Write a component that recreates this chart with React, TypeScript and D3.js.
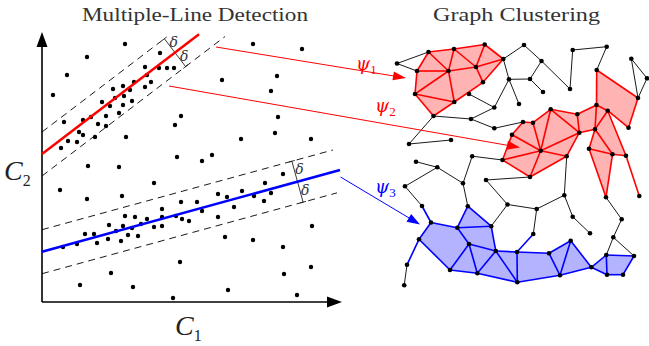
import React from 'react';
import * as d3 from 'd3';

// scatter points (C1, C2)
const points: [number, number][] = [
  [83, 258], [45, 245], [25, 227], [11, 207], [118, 249], [103, 235], [117, 234], [125, 234], [132, 234],
  [105, 227], [92, 220], [103, 215], [109, 220], [71, 213], [81, 216], [88, 212], [73, 204], [82, 206],
  [60, 200], [68, 196], [81, 197], [90, 201], [77, 189], [49, 185], [64, 186], [41, 182], [56, 178],
  [64, 176], [22, 180], [37, 170], [41, 167], [53, 165], [26, 161], [35, 160], [19, 154], [84, 165],
  [139, 186], [133, 177], [135, 145], [160, 141], [170, 147], [46, 136], [77, 135], [211, 258], [260, 253],
  [180, 222], [235, 226], [229, 211], [236, 185], [233, 169], [199, 163], [269, 163], [18, 112], [45, 103],
  [80, 106], [112, 119], [139, 100], [155, 100], [160, 91], [176, 108], [176, 85], [120, 93], [134, 86],
  [140, 83], [147, 81], [105, 83], [120, 85], [93, 85], [83, 86], [67, 77], [81, 76], [90, 74], [99, 78],
  [112, 75], [120, 76], [74, 71], [86, 67], [96, 66], [43, 68], [52, 68], [66, 63], [79, 61], [55, 59],
  [35, 58], [21, 55], [138, 40], [69, 29], [38, 17], [91, 15], [131, 4], [241, 128], [223, 119], [229, 109],
  [222, 101], [212, 106], [200, 111], [185, 105], [192, 95], [270, 76], [183, 65], [211, 62], [241, 55],
  [269, 35], [242, 28], [186, 12], [255, 7],
];

// detected lines: intercept, slope, extent
const redFit = { b: 148, m: 0.762, x0: 0, x1: 157 };
const blueFit = { b: 50.3, m: 0.274, x0: 0, x1: 298 };
const delta = 22;
const redBand = [0, 121, 183]; // fit end, upper end, lower end
const blueBand = [298, 291, 295];
const redBracketAt = 133;
const blueBracketAt = 255.5;

// graph nodes
const nodes: [string, number, number][] = [
  ['A', 38.5, 22], ['B', 64, 19], ['C', 94.7, 14.5], ['D', 113.3, 29], ['E', 27, 41], ['F', 58.5, 41],
  ['G', 86, 37], ['H', 93, 52.3], ['I', 25, 64], ['J', 64.3, 72], ['K', 43.5, 86],
  ['M', 7, 33.5], ['L', 79, 64], ['N', 104.3, 77.5], ['O', 81, 89], ['P', 119, 49.3], ['Q', 129, 74],
  ['S1', 134, 15], ['S2', 151.5, 31], ['S3', 140, 49], ['S4', 153, 62], ['S5', 180, 59], ['S6', 182.7, 20],
  ['S7', 216.7, 16.7], ['S8', 241.3, 28.7], ['S9', 257, 48.3], ['T1', 104.3, 98.3], ['T2', 19, 114], ['T3', 61, 110],
  ['R1', 133, 92], ['R2', 143, 92.7], ['R3', 160.7, 79.3], ['R4', 187.3, 84.3], ['R5', 206.5, 75], ['R6', 206.7, 40],
  ['R7', 248, 68], ['R8', 238.5, 97.7], ['R9', 217.7, 80.7], ['R10', 205, 99.3], ['R11', 189.3, 102.7],
  ['R12', 122, 104.7], ['R13', 150.7, 120.7], ['R14', 176.7, 126.2], ['R15', 112.5, 130], ['R16', 140, 147],
  ['R17', 199, 118.7], ['R18', 222.5, 124.3], ['R19', 236, 125.7], ['R20', 216, 167.3], ['R21', 249.3, 166],
  ['U1', 26, 131.7], ['U2', 47.3, 137.3], ['U3', 15, 156.3], ['U4', 73, 153.3], ['U5', 82.2, 126.2], ['U6', 96, 150],
  ['U7', 117.5, 174.5], ['U8', 146.7, 179], ['U9', 174.3, 165.2], ['U10', 182.7, 186.7], ['U11', 200, 203.3],
  ['U12', 231.7, 189.3], ['U13', 223.3, 207.3], ['U14', 32, 176], ['V', 143.3, 204], ['W1', 17, 234.8], ['W2', 14.2, 255.3],
  ['U15', 77.8, 176.2], ['B1', 41, 192.5], ['B2', 29, 209.3], ['B3', 67.3, 197.7], ['B4', 101.2, 196.2], ['B5', 79, 214],
  ['B6', 105.8, 221], ['B7', 127, 222], ['B8', 60, 240], ['B9', 87.3, 243.2], ['B10', 127.3, 252.2], ['B11', 159, 223.3],
  ['B12', 180.7, 210.7], ['B13', 170, 245.3], ['B14', 201.3, 237.3], ['B15', 216.3, 225], ['B16', 217, 244.7],
  ['B17', 233, 244.7], ['B18', 244, 226],
];

const blackEdges = (
  'M-A M-E L-N N-O O-K N-P D-P P-Q P-S3 D-S1 S1-S2 S2-S3 S3-S4 S2-S5 S5-S6 S6-S7 S7-R6 S8-S9 S8-R7 S9-R7 ' +
  'O-T1 T1-R1 K-T2 T2-T3 U1-U2 U2-U3 U2-U4 U4-U5 U5-R15 U4-U15 U3-U14 U6-R16 U6-U7 U7-B4 U7-U8 U8-V U8-U9 ' +
  'U9-R14 U9-U10 U10-U11 R20-U12 U12-U13 U13-B15 U13-B18 W1-W2'
).split(' ');

const redEdges = (
  'A-B B-C C-D A-E A-F B-F B-G C-G D-G E-F F-G G-H D-H E-I F-I F-J I-J I-K J-K H-J ' +
  'R1-R2 R1-R12 R2-R3 R2-R13 R3-R4 R3-R13 R3-R11 R4-R5 R4-R11 R5-R6 R5-R10 R10-R11 R11-R13 R11-R14 R13-R14 ' +
  'R12-R13 R12-R15 R13-R15 R13-R16 R15-R16 R14-R16 R6-R7 R7-R8 R8-R9 R5-R9 R9-R10 R9-R19 R10-R18 R10-R17 ' +
  'R17-R18 R17-R20 R18-R20 R18-R19 R19-R21'
).split(' ');

const blueEdges = (
  'U14-B1 B1-B2 B1-B3 B3-U15 U15-B4 B3-B4 B3-B5 B2-B8 B5-B8 B5-B9 B8-B9 B5-B6 B4-B6 B6-B9 B6-B10 B9-B10 ' +
  'B6-B7 B7-B10 B7-V B7-B11 B10-B13 B11-B12 B11-B13 B12-B13 B12-B14 B13-B14 B14-B15 B14-B16 B15-B16 ' +
  'B15-B18 B16-B17 B17-B18 B2-W1'
).split(' ');

const redFaces = [
  'A B F', 'A E F', 'B G F', 'B C G', 'C D G', 'G D H', 'E F I', 'F I J', 'F G H J', 'I J K',
  'R12 R1 R2 R13', 'R2 R3 R13', 'R3 R11 R13', 'R3 R4 R11', 'R4 R5 R10 R11', 'R11 R13 R14', 'R12 R13 R15',
  'R15 R13 R16', 'R13 R14 R16', 'R5 R6 R7 R8 R9', 'R5 R9 R10', 'R9 R19 R18 R10', 'R10 R17 R18', 'R17 R18 R20',
].map((f) => f.split(' '));

const blueFaces = [
  'B1 B3 B5 B8 B2', 'B3 U15 B4', 'B3 B4 B6 B5', 'B5 B6 B9', 'B5 B9 B8', 'B6 B9 B10', 'B6 B7 B10',
  'B7 B11 B13 B10', 'B11 B12 B13', 'B12 B14 B13', 'B14 B15 B16', 'B15 B18 B17 B16',
].map((f) => f.split(' '));

// mapping arrows (from, to) in page units
const mapArrows = [
  { from: [216, 47], to: [406, 78], color: '#ff0000', label: '1', at: [356, 70] },
  { from: [169, 86], to: [520, 147.5], color: '#ff0000', label: '2', at: [375, 112] },
  { from: [340.5, 177], to: [420, 224.5], color: '#0000ff', label: '3', at: [375, 193] },
];

const W = 649;
const H = 346;
const serif = 'Liberation Serif, Times New Roman, serif';
const greek = 'DejaVu Serif, serif';

function arrowHead(from: number[], to: number[], len: number, half: number) {
  const dx = to[0] - from[0];
  const dy = to[1] - from[1];
  const d = Math.hypot(dx, dy);
  const ux = dx / d;
  const uy = dy / d;
  const bx = to[0] - ux * len;
  const by = to[1] - uy * len;
  return `${to[0]},${to[1]} ${bx - uy * half},${by + ux * half} ${bx + uy * half},${by - ux * half}`;
}

export default function App() {
  const x = d3.scaleLinear().domain([0, 300]).range([42, 342]);
  const y = d3.scaleLinear().domain([0, 270]).range([302, 32]);
  const gx = d3.scaleLinear().domain([0, 260]).range([390, 650]);
  const gy = d3.scaleLinear().domain([0, 270]).range([30, 300]);

  const pos = new Map(nodes.map(([id, a, b]) => [id, [gx(a), gy(b)]]));
  const line = d3.line();

  const fitLine = (b: number, m: number, x0: number, x1: number) =>
    line([[x(x0), y(b + m * x0)], [x(x1), y(b + m * x1)]]) as string;

  const bands = [
    { fit: redFit, ends: redBand, color: '#ff0000', at: redBracketAt },
    { fit: blueFit, ends: blueBand, color: '#0000ff', at: blueBracketAt },
  ];

  const edgePath = (e: string) => {
    const [a, b] = e.split('-');
    return line([pos.get(a)!, pos.get(b)!] as [number, number][]) as string;
  };
  const facePath = (f: string[]) => line(f.map((id) => pos.get(id)!) as [number, number][]) + 'Z';

  const yTop = y.range()[1];
  const xRight = x.range()[1];

  return (
    <svg width={W} height={H} style={{ position: 'absolute', left: 0, top: 0, background: '#fff' }}>
      <text x={195} y={21} textAnchor="middle" fontFamily={serif} fontSize={19} fill="#333"
        textLength={226} lengthAdjust="spacingAndGlyphs">Multiple-Line Detection</text>
      <text x={516.5} y={21} textAnchor="middle" fontFamily={serif} fontSize={19} fill="#333"
        textLength={167} lengthAdjust="spacingAndGlyphs">Graph Clustering</text>

      {/* axes */}
      <line x1={x(0)} y1={y(0)} x2={x(0)} y2={yTop + 10} stroke="#000" strokeWidth={1.6} />
      <line x1={x(0)} y1={y(0)} x2={xRight - 10} y2={y(0)} stroke="#000" strokeWidth={1.6} />
      <polygon points={arrowHead([x(0), y(0)], [x(0), yTop], 15, 5.5)} fill="#000" />
      <polygon points={arrowHead([x(0), y(0)], [xRight, y(0)], 15, 5.5)} fill="#000" />
      <text x={4} y={180} fontFamily={serif} fontStyle="italic" fontSize={28} fill="#222">
        C<tspan fontStyle="normal" fontSize={16} dy={6}>2</tspan>
      </text>
      <text x={175} y={335} fontFamily={serif} fontStyle="italic" fontSize={28} fill="#222">
        C<tspan fontStyle="normal" fontSize={16} dy={6}>1</tspan>
      </text>

      {/* bands */}
      {bands.map(({ fit, ends, at }, i) => {
        const { b, m } = fit;
        const norm = Math.sqrt(1 + m * m);
        const dp = delta / norm;
        const px = x(at);
        const py = y(b + m * at);
        const nx = m / norm;
        const ny = 1 / norm;
        const tx = 1 / norm;
        const ty = -m / norm;
        const up = [px - nx * dp, py - ny * dp];
        const lo = [px + nx * dp, py + ny * dp];
        return (
          <g key={i}>
            <path d={fitLine(b + delta, m, 0, ends[1])} stroke="#000" strokeWidth={0.9} strokeDasharray="7,5" fill="none" />
            <path d={fitLine(b - delta, m, 0, ends[2])} stroke="#000" strokeWidth={0.9} strokeDasharray="7,5" fill="none" />
            <line x1={up[0]} y1={up[1]} x2={lo[0]} y2={lo[1]} stroke="#222" strokeWidth={0.9} />
            <line x1={up[0] - tx * 3} y1={up[1] - ty * 3} x2={up[0] + tx * 3} y2={up[1] + ty * 3} stroke="#222" strokeWidth={0.9} />
            <line x1={lo[0] - tx * 3} y1={lo[1] - ty * 3} x2={lo[0] + tx * 3} y2={lo[1] + ty * 3} stroke="#222" strokeWidth={0.9} />
            {[up, lo].map((e, k) => (
              <text key={k} x={(e[0] + px) / 2 + tx * 5} y={(e[1] + py) / 2 + ty * 5 + 4}
                textAnchor="middle" fontFamily={greek} fontStyle="italic" fontSize={14} fill="#333">δ</text>
            ))}
          </g>
        );
      })}

      {points.map(([a, b], i) => (
        <circle key={i} cx={x(a)} cy={y(b)} r={2.2} fill="#000" />
      ))}

      <path d={fitLine(redFit.b, redFit.m, redFit.x0, redFit.x1)} stroke="#ff0000" strokeWidth={2.5} />
      <path d={fitLine(blueFit.b, blueFit.m, blueFit.x0, blueFit.x1)} stroke="#0000ff" strokeWidth={2.5} />

      {/* graph */}
      {redFaces.map((f, i) => <path key={'rf' + i} d={facePath(f)} fill="#ffb3b3" />)}
      {blueFaces.map((f, i) => <path key={'bf' + i} d={facePath(f)} fill="#b3b3ff" />)}
      {blackEdges.map((e) => <path key={e} d={edgePath(e)} stroke="#000" strokeWidth={0.9} />)}
      {redEdges.map((e) => <path key={e} d={edgePath(e)} stroke="#ff0000" strokeWidth={1.6} />)}
      {blueEdges.map((e) => <path key={e} d={edgePath(e)} stroke="#0000ff" strokeWidth={1.6} />)}
      {nodes.map(([id]) => {
        const p = pos.get(id)!;
        return <circle key={id} cx={p[0]} cy={p[1]} r={2.3} fill="#000" />;
      })}

      {/* mapping arrows */}
      {mapArrows.map((a) => {
        const d = Math.hypot(a.to[0] - a.from[0], a.to[1] - a.from[1]);
        const k = (d - 10) / d;
        const end = [a.from[0] + (a.to[0] - a.from[0]) * k, a.from[1] + (a.to[1] - a.from[1]) * k];
        return (
          <g key={a.label}>
            <line x1={a.from[0]} y1={a.from[1]} x2={end[0]} y2={end[1]} stroke={a.color} strokeWidth={1} />
            <polygon points={arrowHead(a.from, a.to, 13, 4.5)} fill={a.color} />
            <text x={a.at[0]} y={a.at[1]} fontFamily={greek} fontStyle="italic" fontSize={18} fill={a.color}>
              ψ<tspan fontFamily={serif} fontStyle="normal" fontSize={13} dy={4}>{a.label}</tspan>
            </text>
          </g>
        );
      })}
    </svg>
  );
}
